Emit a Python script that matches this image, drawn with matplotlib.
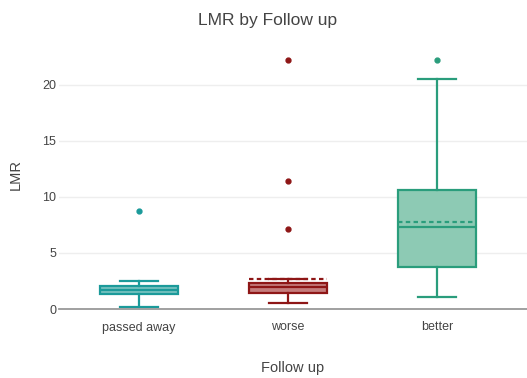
import matplotlib.pyplot as plt

plt.rcParams['font.family'] = ['Liberation Sans', 'DejaVu Sans']

groups = ['passed away', 'worse', 'better']
q1 = [1.34, 1.43, 3.78]
med = [1.70, 1.92, 7.35]
q3 = [2.05, 2.32, 10.6]
whislo = [0.22, 0.56, 1.1]
whishi = [2.5, 2.7, 20.5]
means = [1.70, 2.72, 7.8]
fliers = [[8.75], [7.1, 11.4, 22.2], [22.2]]

edge_cols = ['#1b9a9a', '#8e1616', '#2a9d7c']
fill_cols = ['#76c2c0', '#c57c7c', '#8dcab4']

fig = plt.figure(figsize=(5.27, 3.78), dpi=100)
ax = fig.add_axes([59/527, 1 - 309/378, 468/527, 270/378])

for i in range(len(groups)):
    st = [{'q1': q1[i], 'med': med[i], 'q3': q3[i], 'whislo': whislo[i],
           'whishi': whishi[i], 'mean': means[i], 'fliers': fliers[i]}]
    c = edge_cols[i]
    ax.bxp(st, positions=[i], widths=0.52, patch_artist=True,
           showmeans=(i > 0), meanline=True,
           boxprops=dict(facecolor=fill_cols[i], edgecolor=c, linewidth=1.6),
           medianprops=dict(color=c, linewidth=1.6),
           meanprops=dict(color=c, linewidth=1.6, linestyle=(0, (2, 1.5))),
           whiskerprops=dict(color=c, linewidth=1.6),
           capprops=dict(color=c, linewidth=1.6),
           capwidths=0.26,
           flierprops=dict(marker='o', markersize=3.5, markerfacecolor=c,
                           markeredgecolor=c))

ax.set_xlim(-0.537, 2.604)
ax.set_ylim(0, 24.1)
ax.set_yticks([0, 5, 10, 15, 20])
ax.set_xticks(range(3))
ax.set_xticklabels(groups)
ax.grid(axis='y', color='#eeeeee', linewidth=1)
ax.set_axisbelow(True)
for s in ['top', 'right', 'left']:
    ax.spines[s].set_visible(False)
ax.spines['bottom'].set_color('#999999')
ax.spines['bottom'].set_linewidth(1.3)
ax.tick_params(axis='y', length=0, labelsize=9, labelcolor='#444444', pad=2)
ax.tick_params(axis='x', length=0, labelsize=9, labelcolor='#444444', pad=9)

ax.set_ylabel('LMR', fontsize=10.5, color='#444444', labelpad=14)
ax.set_xlabel('Follow up', fontsize=10.5, color='#444444', labelpad=20)
fig.text(0.508, 1 - 20/378, 'LMR by Follow up', ha='center', va='center',
         fontsize=12.5, color='#444444')

fig.savefig('out.png', dpi=100)
